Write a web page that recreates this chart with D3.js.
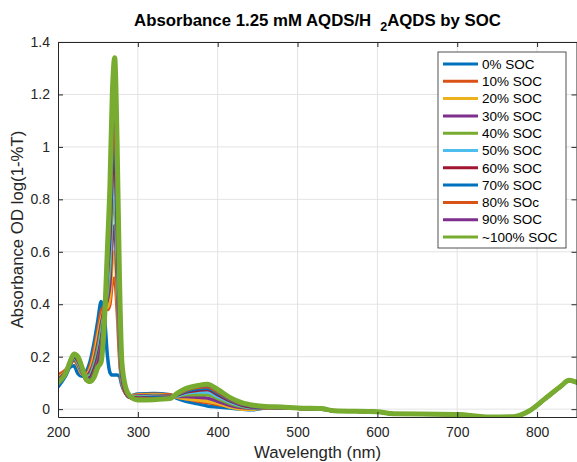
<!DOCTYPE html>
<html>
<head>
<meta charset="utf-8">
<script src="https://cdn.jsdelivr.net/npm/d3@7"></script>
<style>
  body { margin: 0; background: #fff; }
  svg { display: block; font-family: "Liberation Sans", Arial, Helvetica, sans-serif; }
</style>
</head>
<body>
<svg width="577" height="462"></svg>
<script>
// Data
const wavelengths = [200,210,215,220,225,230,235,240,245,250,254,258,262,265,268,271,274,277,280,285,290,300,320,340,350,360,375,387,400,415,430,445,460,480,500,530,545,600,620,700,740,770,790,810,830,840,850];

const soc0 = [0.085,0.13,0.16,0.165,0.135,0.125,0.14,0.18,0.25,0.34,0.41,0.36,0.2,0.14,0.13,0.13,0.13,0.125,0.09,0.06,0.05,0.058,0.06,0.055,0.04,0.03,0.02,0.012,0.008,0.004,0.0,-0.002,0.004,0.004,0.003,0.0,-0.006,-0.011,-0.019,-0.021,-0.03,-0.03,-0.008,0.038,0.086,0.108,0.1];
const soc10 = [0.13,0.15,0.17,0.19,0.165,0.135,0.135,0.16,0.22,0.3,0.37,0.39,0.38,0.4,0.48,0.5,0.38,0.2,0.1,0.06,0.05,0.055,0.057,0.055,0.045,0.04,0.03,0.025,0.018,0.01,0.005,0.002,0.005,0.005,0.003,0.001,-0.005,-0.011,-0.018,-0.021,-0.029,-0.03,-0.007,0.039,0.087,0.109,0.101];
const soc20 = [0.12,0.145,0.17,0.185,0.165,0.135,0.13,0.15,0.2,0.28,0.34,0.38,0.39,0.43,0.56,0.6,0.45,0.22,0.1,0.06,0.05,0.053,0.055,0.05,0.045,0.04,0.035,0.03,0.022,0.008,0.0,0.0,0.006,0.006,0.003,0.0,-0.006,-0.01,-0.018,-0.02,-0.03,-0.029,-0.008,0.04,0.087,0.11,0.102];
const soc30 = [0.11,0.145,0.17,0.19,0.17,0.14,0.125,0.14,0.18,0.25,0.32,0.38,0.42,0.48,0.65,0.7,0.5,0.24,0.1,0.06,0.048,0.05,0.052,0.05,0.048,0.048,0.045,0.042,0.03,0.015,0.006,0.003,0.006,0.005,0.003,0.001,-0.006,-0.01,-0.018,-0.02,-0.03,-0.029,-0.007,0.04,0.088,0.11,0.102];
const soc40 = [0.105,0.14,0.175,0.195,0.175,0.145,0.125,0.13,0.17,0.23,0.3,0.37,0.45,0.55,0.75,0.8,0.58,0.28,0.11,0.06,0.047,0.047,0.05,0.048,0.05,0.055,0.055,0.055,0.04,0.022,0.01,0.005,0.007,0.006,0.003,0.001,-0.006,-0.01,-0.018,-0.02,-0.03,-0.029,-0.007,0.04,0.088,0.11,0.102];
const soc50 = [0.1,0.14,0.175,0.2,0.18,0.145,0.12,0.125,0.16,0.21,0.28,0.36,0.48,0.6,0.82,0.88,0.65,0.3,0.12,0.06,0.045,0.045,0.048,0.046,0.052,0.06,0.065,0.065,0.048,0.028,0.013,0.006,0.008,0.006,0.003,0.001,-0.006,-0.01,-0.018,-0.02,-0.03,-0.029,-0.007,0.04,0.088,0.11,0.102];
const soc60 = [0.1,0.14,0.175,0.2,0.185,0.15,0.115,0.12,0.15,0.2,0.26,0.35,0.52,0.66,0.9,0.97,0.72,0.33,0.13,0.06,0.045,0.042,0.045,0.045,0.055,0.065,0.072,0.075,0.055,0.032,0.016,0.008,0.008,0.006,0.003,0.001,-0.006,-0.01,-0.018,-0.02,-0.03,-0.029,-0.007,0.04,0.088,0.11,0.102];
const soc70 = [0.095,0.14,0.175,0.2,0.19,0.15,0.115,0.115,0.14,0.19,0.25,0.35,0.55,0.7,0.96,1.04,0.78,0.36,0.14,0.065,0.045,0.04,0.043,0.043,0.056,0.068,0.078,0.08,0.06,0.035,0.018,0.01,0.008,0.006,0.003,0.001,-0.006,-0.01,-0.018,-0.02,-0.03,-0.029,-0.007,0.04,0.088,0.11,0.102];
const soc80 = [0.1,0.14,0.18,0.205,0.19,0.155,0.115,0.11,0.135,0.18,0.24,0.34,0.58,0.75,1.02,1.12,0.84,0.4,0.15,0.065,0.045,0.038,0.04,0.042,0.058,0.072,0.083,0.085,0.065,0.038,0.02,0.012,0.009,0.006,0.003,0.001,-0.006,-0.01,-0.018,-0.02,-0.03,-0.029,-0.007,0.04,0.088,0.11,0.102];
const soc90 = [0.1,0.14,0.18,0.21,0.195,0.155,0.11,0.105,0.13,0.17,0.23,0.33,0.6,0.8,1.1,1.22,0.92,0.45,0.16,0.07,0.045,0.036,0.038,0.04,0.06,0.075,0.088,0.09,0.07,0.04,0.022,0.013,0.009,0.006,0.003,0.001,-0.006,-0.01,-0.018,-0.02,-0.03,-0.029,-0.007,0.04,0.088,0.11,0.102];
const soc100 = [0.1,0.14,0.18,0.21,0.2,0.16,0.115,0.105,0.12,0.16,0.18,0.33,0.62,0.85,1.2,1.34,1.02,0.5,0.18,0.08,0.05,0.035,0.036,0.04,0.062,0.078,0.09,0.095,0.075,0.045,0.025,0.015,0.01,0.008,0.004,0.002,-0.006,-0.01,-0.018,-0.02,-0.03,-0.029,-0.007,0.04,0.088,0.11,0.102];

const seriesLabels = ["0% SOC","10% SOC","20% SOC","30% SOC","40% SOC","50% SOC","60% SOC","70% SOC","80% SOc","90% SOC","~100% SOC"];
const seriesValues = [soc0, soc10, soc20, soc30, soc40, soc50, soc60, soc70, soc80, soc90, soc100];
const xTicks = [200,300,400,500,600,700,800];
const yTicks = [0,0.2,0.4,0.6,0.8,1,1.2,1.4];

const colors = ["#0072BD","#D95319","#EDB120","#7E2F8E","#77AC30","#4DBEEE","#A2142F","#0072BD","#D95319","#7E2F8E","#77AC30"];
const textColor = "#262626";

// Layout
const margin = { l: 58, r: 0, t: 42, b: 45 };
const width = 577 - margin.l - margin.r;
const height = 462 - margin.t - margin.b;

const svg = d3.select("svg");
const g = svg.append("g").attr("transform", `translate(${margin.l},${margin.t})`);

// Scales
const xScale = d3.scaleLinear().domain([200, 850]).range([0, width]);
const yScale = d3.scaleLinear().domain([-0.03, 1.4]).range([height, 0]);

// Grid
g.append("g")
  .selectAll("line.vx")
  .data(xTicks.slice(1))
  .join("line")
    .attr("x1", d => xScale(d)).attr("x2", d => xScale(d))
    .attr("y1", 0).attr("y2", height)
    .attr("stroke", "#e3e3e3").attr("stroke-width", 1);

g.append("g")
  .selectAll("line.hy")
  .data(yTicks)
  .join("line")
    .attr("x1", 0).attr("x2", width)
    .attr("y1", d => yScale(d)).attr("y2", d => yScale(d))
    .attr("stroke", "#e3e3e3").attr("stroke-width", 1);

// Lines
g.append("clipPath").attr("id", "clip")
  .append("rect").attr("width", width).attr("height", height);

const line = d3.line()
  .x((d, i) => xScale(wavelengths[i]))
  .y(d => yScale(d))
  .curve(d3.curveMonotoneX);

g.append("g").attr("clip-path", "url(#clip)")
  .selectAll("path")
  .data(seriesValues)
  .join("path")
    .attr("d", d => line(d))
    .attr("fill", "none")
    .attr("stroke", (d, i) => colors[i])
    .attr("stroke-width", (d, i) => i === seriesValues.length - 1 ? 5 : 3.5)
    .attr("stroke-linejoin", "round")
    .attr("stroke-linecap", "round");

// Axes (ticks pointing inward, box on all sides)
const styleAxis = sel => {
  sel.select(".domain").attr("stroke", textColor);
  sel.selectAll(".tick line").attr("stroke", textColor);
  sel.selectAll(".tick text").attr("fill", textColor).style("font-size", "14px");
};

g.append("g")
  .attr("transform", `translate(0,${height})`)
  .call(d3.axisBottom(xScale).tickValues(xTicks).tickSizeInner(-5).tickSizeOuter(0).tickPadding(10))
  .call(styleAxis);

g.append("g")
  .call(d3.axisTop(xScale).tickValues(xTicks).tickSizeInner(-5).tickSizeOuter(0).tickFormat(""))
  .call(styleAxis);

g.append("g")
  .call(d3.axisLeft(yScale).tickValues(yTicks).tickSizeInner(-5).tickSizeOuter(0).tickPadding(8).tickFormat(d3.format("~g")))
  .call(styleAxis);

g.append("g")
  .attr("transform", `translate(${width - 0.5},0)`)
  .call(d3.axisRight(yScale).tickValues(yTicks).tickSizeInner(-5).tickSizeOuter(0).tickFormat(""))
  .call(styleAxis);

// Axis labels
svg.append("text")
  .attr("x", margin.l + width / 2)
  .attr("y", 458)
  .attr("text-anchor", "middle")
  .attr("fill", textColor)
  .style("font-size", "16.8px")
  .text("Wavelength (nm)");

svg.append("text")
  .attr("transform", `translate(23,${margin.t + height / 2}) rotate(-90)`)
  .attr("text-anchor", "middle")
  .attr("fill", textColor)
  .style("font-size", "16.8px")
  .text("Absorbance OD log(1-%T)");

// Title
const title = svg.append("text")
  .attr("x", margin.l + width / 2)
  .attr("y", 26)
  .attr("text-anchor", "middle")
  .attr("fill", "#000")
  .style("font-size", "16.8px")
  .style("font-weight", "bold");
title.append("tspan").text("Absorbance 1.25 mM AQDS/H");
title.append("tspan").attr("dx", 9).attr("dy", 5).style("font-size", "12.5px").text("2");
title.append("tspan").attr("dy", -5).text("AQDS by SOC");

// Legend
const legend = svg.append("g").attr("transform", "translate(438,52)");
legend.append("rect")
  .attr("width", 128).attr("height", 196)
  .attr("fill", "#fff").attr("stroke", textColor).attr("stroke-width", 0.8);

const rows = legend.selectAll("g.row")
  .data(seriesLabels)
  .join("g")
    .attr("transform", (d, i) => `translate(0,${12 + i * 17.3})`);

rows.append("line")
  .attr("x1", 5).attr("x2", 40)
  .attr("stroke", (d, i) => colors[i])
  .attr("stroke-width", 3);

rows.append("text")
  .attr("x", 44).attr("dy", "0.35em")
  .attr("fill", "#000")
  .style("font-size", "13.5px")
  .text(d => d);
</script>
</body>
</html>
